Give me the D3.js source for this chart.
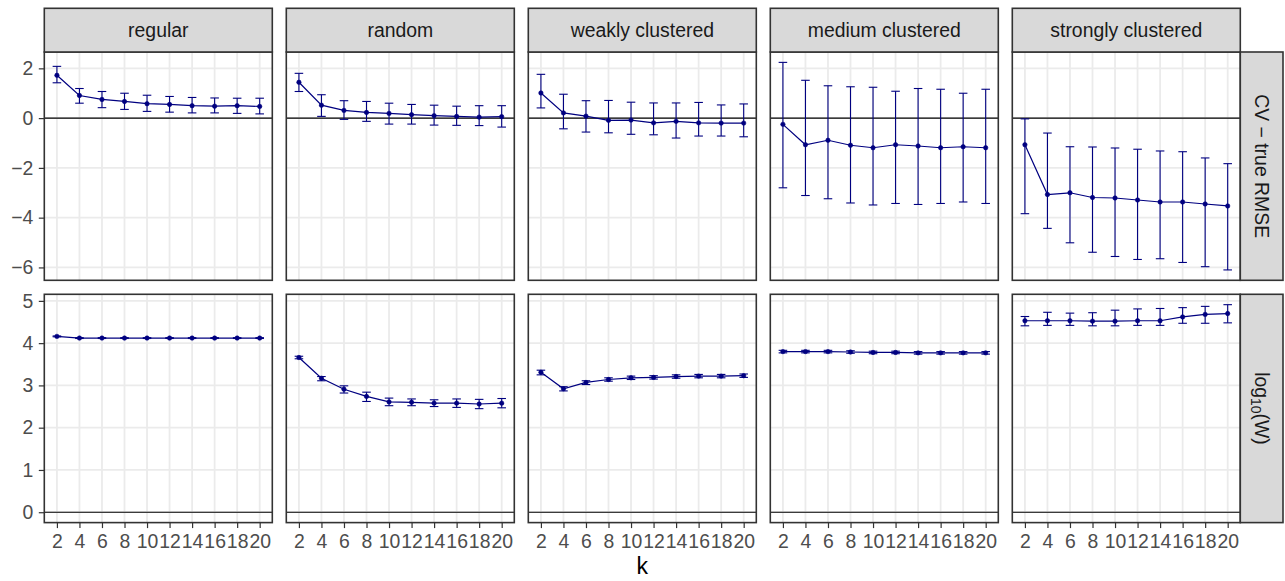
<!DOCTYPE html>
<html>
<head>
<meta charset="utf-8">
<script src="https://cdn.jsdelivr.net/npm/d3@7"></script>
<style>
  html, body { margin: 0; padding: 0; background: #ffffff; }
  svg { display: block; font-family: "Liberation Sans", Arial, Helvetica, sans-serif; }
</style>
</head>
<body>
<svg id="chart" width="1285" height="581"></svg>
<script>
// k values on the x axis
const kValues = [2, 4, 6, 8, 10, 12, 14, 16, 18, 20];

// facet columns (point patterns)
const patterns = ["regular", "random", "weakly clustered", "medium clustered", "strongly clustered"];

// facet rows (metrics)
const metrics = ["CV \u2212 true RMSE", "log10(W)"];

// y tick labels per row
const rmseTicks = [-6, -4, -2, 0, 2];
const logWTicks = [0, 1, 2, 3, 4, 5];

// CV - true RMSE: centre, lower and upper ends of the error bars (one row per pattern)
const rmseMid = [
  [1.72, 0.91, 0.75, 0.67, 0.58, 0.55, 0.50, 0.48, 0.50, 0.47],
  [1.44, 0.52, 0.31, 0.23, 0.19, 0.14, 0.10, 0.07, 0.04, 0.06],
  [1.01, 0.21, 0.08, -0.09, -0.08, -0.19, -0.13, -0.19, -0.20, -0.20],
  [-0.25, -1.07, -0.89, -1.09, -1.19, -1.07, -1.12, -1.19, -1.15, -1.19],
  [-1.07, -3.07, -3.00, -3.19, -3.21, -3.29, -3.37, -3.37, -3.45, -3.53]
];
const rmseLow = [
  [1.42, 0.60, 0.42, 0.35, 0.27, 0.24, 0.21, 0.21, 0.19, 0.17],
  [1.07, 0.07, -0.05, -0.13, -0.24, -0.24, -0.28, -0.29, -0.30, -0.36],
  [0.41, -0.43, -0.56, -0.59, -0.65, -0.67, -0.80, -0.72, -0.72, -0.75],
  [-2.80, -3.11, -3.24, -3.41, -3.49, -3.43, -3.47, -3.43, -3.37, -3.43],
  [-3.84, -4.43, -5.01, -5.39, -5.56, -5.68, -5.65, -5.80, -5.97, -6.10]
];
const rmseHigh = [
  [2.08, 1.19, 1.07, 1.00, 0.92, 0.87, 0.83, 0.81, 0.80, 0.80],
  [1.80, 0.94, 0.70, 0.67, 0.60, 0.55, 0.52, 0.48, 0.50, 0.50],
  [1.76, 0.96, 0.70, 0.71, 0.64, 0.61, 0.61, 0.63, 0.53, 0.57],
  [2.24, 1.52, 1.30, 1.26, 1.24, 1.08, 1.19, 1.16, 1.00, 1.16],
  [-0.03, -0.60, -1.15, -1.16, -1.20, -1.25, -1.32, -1.35, -1.60, -1.83]
];

// log10(W): centre, lower and upper ends of the error bars
const logWMid = [
  [4.16, 4.12, 4.12, 4.12, 4.12, 4.12, 4.12, 4.12, 4.12, 4.12],
  [3.66, 3.17, 2.91, 2.74, 2.61, 2.60, 2.58, 2.58, 2.56, 2.58],
  [3.31, 2.92, 3.07, 3.14, 3.18, 3.19, 3.21, 3.22, 3.22, 3.23],
  [3.80, 3.80, 3.80, 3.79, 3.78, 3.78, 3.77, 3.77, 3.77, 3.77],
  [4.53, 4.53, 4.53, 4.52, 4.52, 4.53, 4.53, 4.62, 4.68, 4.70]
];
const logWLow = [
  [4.15, 4.11, 4.11, 4.11, 4.11, 4.11, 4.11, 4.11, 4.11, 4.11],
  [3.63, 3.11, 2.82, 2.62, 2.52, 2.52, 2.50, 2.48, 2.45, 2.47],
  [3.25, 2.87, 3.02, 3.10, 3.14, 3.15, 3.17, 3.18, 3.18, 3.19],
  [3.77, 3.77, 3.77, 3.76, 3.75, 3.75, 3.74, 3.74, 3.74, 3.74],
  [4.41, 4.42, 4.42, 4.41, 4.41, 4.42, 4.42, 4.47, 4.47, 4.48]
];
const logWHigh = [
  [4.17, 4.13, 4.13, 4.13, 4.13, 4.13, 4.13, 4.13, 4.13, 4.13],
  [3.69, 3.21, 2.99, 2.84, 2.70, 2.68, 2.66, 2.68, 2.67, 2.69],
  [3.36, 2.97, 3.11, 3.18, 3.22, 3.23, 3.25, 3.26, 3.26, 3.27],
  [3.83, 3.83, 3.83, 3.82, 3.81, 3.81, 3.80, 3.80, 3.80, 3.80],
  [4.63, 4.73, 4.71, 4.72, 4.78, 4.81, 4.82, 4.84, 4.87, 4.91]
];

// ---------------------------------------------------------------- layout
const svg = d3.select("#chart");
const W = 1285, H = 581;
svg.append("rect").attr("width", W).attr("height", H).attr("fill", "#ffffff");

const panelLeft = 44.3, panelW = 228, gapX = 14;
const stripTop = 8.3, stripH = 43.7;
const rowTop = [52, 294.3], panelH = 228.3;
const rightStripW = 42.7;

const ink = "#000080";
const frame = "#333333";
const grid = "#EBEBEB";
const tickFont = 19.4;

const rows = [
  { mid: rmseMid, low: rmseLow, high: rmseHigh, ticks: rmseTicks },
  { mid: logWMid, low: logWLow, high: logWHigh, ticks: logWTicks }
];

// shared x scale (same across columns), expanded around the error-bar caps
const x = d3.scaleLinear().domain([0.88, 21.12]).range([0, panelW]);
const capHalf = 0.38;

// free y scale per row: data extent plus the zero line, expanded by 5%
rows.forEach(row => {
  const lo = Math.min(0, d3.min(row.low.flat()));
  const hi = Math.max(0, d3.max(row.high.flat()));
  const pad = (hi - lo) * 0.05;
  row.y = d3.scaleLinear().domain([lo - pad, hi + pad]).range([panelH, 0]);
});

const line = d3.line();

rows.forEach((row, r) => {
  const y = row.y;
  patterns.forEach((pat, c) => {
    const gx = panelLeft + c * (panelW + gapX);
    const g = svg.append("g").attr("transform", `translate(${gx},${rowTop[r]})`);

    g.append("rect").attr("width", panelW).attr("height", panelH).attr("fill", "#ffffff");

    // major grid
    g.selectAll(".gy").data(row.ticks).enter().append("line")
      .attr("x1", 0).attr("x2", panelW)
      .attr("y1", d => y(d)).attr("y2", d => y(d))
      .attr("stroke", grid).attr("stroke-width", 1.8);
    g.selectAll(".gx").data(kValues).enter().append("line")
      .attr("x1", d => x(d)).attr("x2", d => x(d))
      .attr("y1", 0).attr("y2", panelH)
      .attr("stroke", grid).attr("stroke-width", 1.8);

    // reference line at zero
    g.append("line").attr("x1", 0).attr("x2", panelW)
      .attr("y1", y(0)).attr("y2", y(0))
      .attr("stroke", "#000000").attr("stroke-width", 1.1);

    const pts = kValues.map((k, i) => ({ k, m: row.mid[c][i], lo: row.low[c][i], hi: row.high[c][i] }));

    // error bars
    const eb = g.append("g").attr("stroke", ink).attr("stroke-width", 1.1).attr("fill", "none");
    pts.forEach(p => {
      eb.append("line").attr("x1", x(p.k)).attr("x2", x(p.k)).attr("y1", y(p.lo)).attr("y2", y(p.hi));
      eb.append("line").attr("x1", x(p.k - capHalf)).attr("x2", x(p.k + capHalf)).attr("y1", y(p.lo)).attr("y2", y(p.lo));
      eb.append("line").attr("x1", x(p.k - capHalf)).attr("x2", x(p.k + capHalf)).attr("y1", y(p.hi)).attr("y2", y(p.hi));
    });

    // mean line and points
    g.append("path").attr("d", line(pts.map(p => [x(p.k), y(p.m)])))
      .attr("fill", "none").attr("stroke", ink).attr("stroke-width", 1.2);
    g.selectAll(".pt").data(pts).enter().append("circle")
      .attr("cx", p => x(p.k)).attr("cy", p => y(p.m)).attr("r", 2.2)
      .attr("fill", ink).attr("stroke", ink).attr("stroke-width", 0.6);

    // panel border
    g.append("rect").attr("width", panelW).attr("height", panelH)
      .attr("fill", "none").attr("stroke", frame).attr("stroke-width", 1.6);

    // y axis on first column
    if (c === 0) {
      const ay = g.append("g").call(
        d3.axisLeft(y).tickValues(row.ticks).tickSize(5.5).tickPadding(5.5)
          .tickFormat(d => d < 0 ? "\u2212" + Math.abs(d) : String(d))
      );
      ay.select(".domain").remove();
      ay.selectAll("line").attr("stroke", frame).attr("stroke-width", 1.2);
      ay.selectAll("text").attr("fill", "#4D4D4D").attr("font-size", tickFont)
        .attr("font-family", "'Liberation Sans', Arial, sans-serif");
    }

    // x axis on bottom row
    if (r === rows.length - 1) {
      const ax = g.append("g").attr("transform", `translate(0,${panelH})`).call(
        d3.axisBottom(x).tickValues(kValues).tickSize(5.5).tickPadding(6)
      );
      ax.select(".domain").remove();
      ax.selectAll("line").attr("stroke", frame).attr("stroke-width", 1.2);
      ax.selectAll("text").attr("fill", "#4D4D4D").attr("font-size", tickFont)
        .attr("font-family", "'Liberation Sans', Arial, sans-serif");
    }

    // column strip on top row
    if (r === 0) {
      const s = svg.append("g").attr("transform", `translate(${gx},${stripTop})`);
      s.append("rect").attr("width", panelW).attr("height", stripH)
        .attr("fill", "#D9D9D9").attr("stroke", frame).attr("stroke-width", 1.6);
      s.append("text").attr("x", panelW / 2).attr("y", stripH / 2).attr("dy", "0.35em")
        .attr("text-anchor", "middle").attr("fill", "#1A1A1A").attr("font-size", tickFont)
        .text(pat);
    }

    // row strip on last column
    if (c === patterns.length - 1) {
      const sx = gx + panelW;
      const s = svg.append("g").attr("transform", `translate(${sx},${rowTop[r]})`);
      s.append("rect").attr("width", rightStripW).attr("height", panelH)
        .attr("fill", "#D9D9D9").attr("stroke", frame).attr("stroke-width", 1.6);
      const t = s.append("text")
        .attr("transform", `translate(${rightStripW / 2},${panelH / 2}) rotate(90)`)
        .attr("dy", "0.35em").attr("text-anchor", "middle")
        .attr("fill", "#1A1A1A").attr("font-size", tickFont);
      if (r === 0) {
        t.text(metrics[0]);
      } else {
        t.append("tspan").text("log");
        t.append("tspan").attr("font-size", tickFont * 0.72).attr("dy", "0.3em").text("10");
        t.append("tspan").attr("dy", "-0.22em").text("(W)");
      }
    }
  });
});

// x axis title
svg.append("text")
  .attr("x", panelLeft + (patterns.length * panelW + (patterns.length - 1) * gapX) / 2)
  .attr("y", 574)
  .attr("text-anchor", "middle").attr("fill", "#000000").attr("font-size", 23)
  .text("k");
</script>
</body>
</html>
